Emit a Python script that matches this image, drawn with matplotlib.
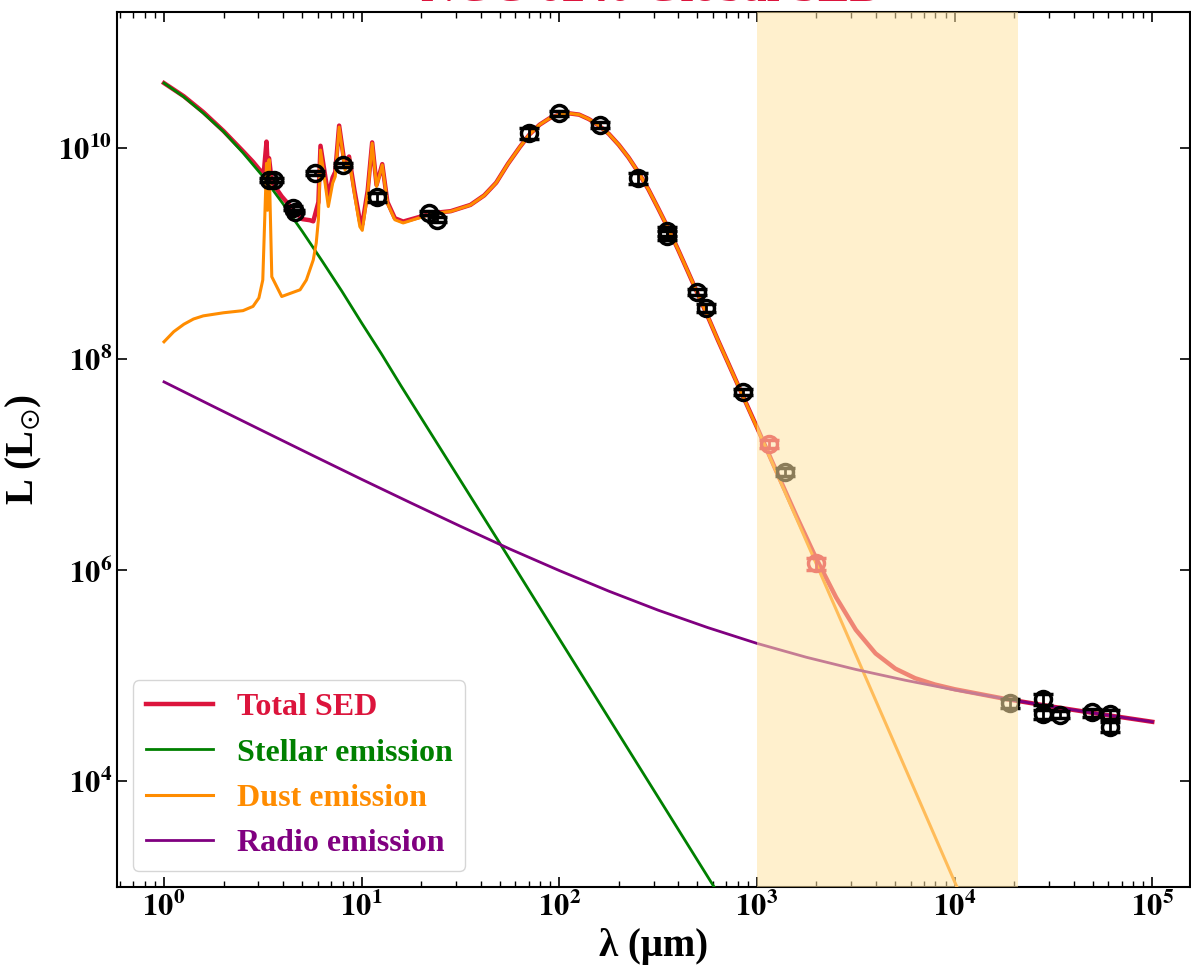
import math
import matplotlib
matplotlib.use('Agg')
import matplotlib.pyplot as plt
from matplotlib.ticker import LogLocator, FuncFormatter, NullLocator, NullFormatter, FixedLocator

plt.rcParams['mathtext.fontset'] = 'stix'
plt.rcParams['font.family'] = ['Liberation Serif', 'DejaVu Serif']

# --- model components (wavelength in micron, luminosity in Lsun) ---
star_wl = [1, 1.26, 1.58, 2.0, 2.51, 3.16, 3.98, 5.01, 6.31, 7.94, 10, 12.6,
           15.8, 25.1, 48.3, 100, 316, 631, 1000]
star_L = [4.12e10, 3.05e10, 2.14e10, 1.43e10, 9.0e9, 5.4e9, 3.0e9, 1.62e9,
          8.5e8, 4.4e8, 2.2e8, 1.12e8, 5.6e7, 1.41e7, 2.0e6, 2.24e5, 7.1e3,
          890, 224]

dust_wl = [1.0, 1.12, 1.26, 1.41, 1.58, 2.0, 2.51, 2.82, 3.02, 3.16, 3.30,
           3.34, 3.40, 3.51, 3.94, 4.88, 5.25, 5.69, 5.89, 6.04, 6.19, 6.78,
           7.13, 7.35, 7.69, 8.24, 8.63, 9.18, 9.79, 10.07, 10.72, 11.30,
           11.89, 12.71, 13.49, 14.72, 16.22, 23.0, 28.2, 35.5, 41.7, 47.9,
           55.0, 63.1, 70.8, 79.4, 89.1, 100, 112, 126, 141, 158, 178, 200,
           224, 251, 282, 316, 355, 398, 447, 501, 562, 631, 708, 794, 891,
           1000, 1585, 2512, 3981, 6310, 1e4, 12589]
dust_L = [1.46e8, 1.82e8, 2.14e8, 2.40e8, 2.57e8, 2.75e8, 2.88e8, 3.16e8,
          3.80e8, 5.62e8, 7.16e9, 2.57e9, 7.76e9, 6.03e8, 3.92e8, 4.54e8,
          5.62e8, 8.71e8, 1.26e9, 2.09e9, 9.55e9, 2.79e9, 4.63e9, 5.37e9,
          1.58e10, 6.17e9, 7.94e9, 3.72e9, 1.80e9, 1.66e9, 3.72e9, 1.11e10,
          4.32e9, 6.92e9, 3.00e9, 2.09e9, 1.95e9, 2.40e9, 2.51e9, 2.88e9,
          3.55e9, 4.68e9, 7.08e9, 1.02e10, 1.35e10, 1.66e10, 1.91e10,
          2.07e10, 2.13e10, 2.07e10, 1.88e10, 1.64e10, 1.36e10, 1.07e10,
          8.13e9, 5.89e9, 4.07e9, 2.69e9, 1.74e9, 1.10e9, 6.76e8, 4.17e8,
          2.57e8, 1.55e8, 9.55e7, 5.89e7, 3.63e7, 2.24e7, 3.09e6, 4.27e5,
          5.89e4, 8.13e3, 1.12e3, 417]

radio_wl = [1, 1.778, 3.162, 5.623, 10, 17.78, 31.62, 56.23, 100, 177.8,
            316.2, 562.3, 1000, 1778, 3162, 5623, 1e4, 17783, 31623, 56234, 1e5]
radio_L = [6.09e7, 3.56e7, 2.09e7, 1.23e7, 7.27e6, 4.34e6, 2.61e6, 1.59e6,
           9.94e5, 6.35e5, 4.19e5, 2.87e5, 2.03e5, 1.50e5, 1.15e5, 9.09e4,
           7.36e4, 6.08e4, 5.09e4, 4.31e4, 3.67e4]

total_wl = [1.0, 1.26, 1.58, 2.0, 2.51, 2.82, 3.06, 3.20, 3.30, 3.34, 3.40,
            3.51, 3.94, 4.51, 5.01, 5.47, 5.69, 6.04, 6.19, 6.78, 7.13, 7.35,
            7.69, 8.24, 8.63, 9.18, 9.79, 10.07, 10.72, 11.30, 11.89, 12.71,
            13.49, 14.72, 16.22, 23.0, 28.2, 35.5, 41.7, 47.9, 55.0, 63.1,
            70.8, 79.4, 89.1, 100, 112, 126, 141, 158, 178, 200, 224, 251,
            282, 316, 355, 398, 447, 501, 562, 631, 708, 794, 891, 1000, 1259,
            1585, 1995, 2512, 3162, 3981, 5012, 6310, 7943, 1e4, 17783, 31623,
            56234, 1e5]
total_L = [4.12e10, 3.09e10, 2.19e10, 1.45e10, 9.33e9, 7.4e9, 6.15e9, 5.96e9,
           1.15e10, 7.3e9, 8.0e9, 4.77e9, 3.48e9, 2.6e9, 2.12e9, 2.07e9,
           2.02e9, 3.07e9, 1.05e10, 3.5e9, 5.25e9, 5.93e9, 1.63e10, 6.58e9,
           8.3e9, 4.02e9, 2.05e9, 1.89e9, 3.91e9, 1.13e10, 4.46e9, 7.03e9,
           3.09e9, 2.16e9, 2.01e9, 2.42e9, 2.52e9, 2.89e9, 3.56e9, 4.69e9,
           7.09e9, 1.02e10, 1.35e10, 1.66e10, 1.91e10, 2.07e10, 2.13e10,
           2.07e10, 1.88e10, 1.64e10, 1.36e10, 1.07e10, 8.13e9, 5.89e9,
           4.07e9, 2.69e9, 1.74e9, 1.10e9, 6.76e8, 4.17e8, 2.57e8, 1.55e8,
           9.57e7, 5.91e7, 3.65e7, 2.26e7, 8.5e6, 3.25e6, 1.29e6, 5.55e5,
           2.73e5, 1.63e5, 1.17e5, 9.5e4, 8.28e4, 7.47e4, 6.08e4, 5.09e4,
           4.31e4, 3.67e4]

# --- photometry ---
obs_wl = [3.4, 3.6, 4.5, 4.6, 5.8, 8.0, 12, 22, 24, 70, 100, 160, 250, 350,
          349, 500, 550, 850, 1380, 1.9e4, 2.79e4, 2.79e4, 3.4e4, 4.94e4,
          6.1e4, 6.1e4]
obs_L = [5.0e9, 5.0e9, 2.7e9, 2.5e9, 5.8e9, 6.9e9, 3.4e9, 2.43e9, 2.1e9,
         1.39e10, 2.14e10, 1.65e10, 5.2e9, 1.62e9, 1.48e9, 4.35e8, 3.06e8,
         4.9e7, 8.6e6, 5.5e4, 6.0e4, 4.33e4, 4.3e4, 4.5e4, 4.33e4, 3.3e4]
obs_err = [0.2e9, 0.2e9, 0.1e9, 0.1e9, 0.2e9, 0.3e9, 0.35e9, 0.1e9, 0.12e9,
           1.6e9, 1.2e9, 1.0e9, 0.6e9, 0.15e9, 0.15e9, 0.3e8, 0.25e8, 0.3e7,
           0.8e6, 0.5e4, 0.7e4, 0.4e4, 0.35e4, 0.4e4, 0.4e4, 0.35e4]

extra_wl = [1150, 2000]
extra_L = [1.58e7, 1.16e6]
extra_err = [1.5e6, 1.6e5]

fig = plt.figure(figsize=(11.91, 9.71), dpi=100)
ax = fig.add_axes([0.0982, 0.0865, 0.9009, 0.9011])

ax.plot(total_wl, total_L, color='crimson', lw=3.2, zorder=2, label='Total SED')
ax.plot(star_wl, star_L, color='green', lw=2, zorder=3, label='Stellar emission')
ax.plot(dust_wl, dust_L, color='darkorange', lw=2.2, zorder=3, label='Dust emission')
ax.plot(radio_wl, radio_L, color='purple', lw=2, zorder=3, label='Radio emission')

ax.errorbar(obs_wl, obs_L, yerr=obs_err, fmt='o', ms=11.5, mfc='none', mec='black',
            mew=2.5, ecolor='black', elinewidth=2, capsize=7, capthick=3, zorder=5)
ax.errorbar(extra_wl, extra_L, yerr=extra_err, fmt='o', ms=11.5, mfc='none',
            mec='crimson', mew=2.5, ecolor='crimson', elinewidth=2, capsize=7,
            capthick=3, zorder=5)

# mm window
ax.axvspan(1e3, 2.1e4, color='#ffe4a4', alpha=0.55, lw=0, zorder=10)

ax.set_xscale('log')
ax.set_yscale('log')
ax.set_xlim(0.578, 1.55e5)
ax.set_ylim(1.0e3, 1.94e11)

ax.xaxis.set_major_locator(FixedLocator([1, 1e1, 1e2, 1e3, 1e4, 1e5]))
ax.xaxis.set_minor_locator(LogLocator(base=10, subs=range(2, 10), numticks=20))
ax.yaxis.set_major_locator(FixedLocator([1e4, 1e6, 1e8, 1e10]))
ax.yaxis.set_minor_locator(NullLocator())
fmt = FuncFormatter(lambda v, p: r'$\mathbf{10^{%d}}$' % round(math.log10(v)))
ax.xaxis.set_major_formatter(fmt)
ax.yaxis.set_major_formatter(fmt)
ax.xaxis.set_minor_formatter(NullFormatter())
ax.tick_params(which='both', direction='in', top=True, right=True, labelsize=22)
ax.tick_params(which='major', length=7, width=1.2)
ax.tick_params(which='minor', length=4, width=1)
for s in ax.spines.values():
    s.set_linewidth(1.5)

ax.set_xlabel('λ (μm)', fontsize=28, fontweight='bold', labelpad=4)
ax.set_ylabel(r'L (L$_{\odot}$)', fontsize=28, fontweight='bold', labelpad=10)

leg = ax.legend(loc='lower left', handlelength=2.1, handletextpad=0.75,
                borderaxespad=0.5, labelspacing=0.5,
                prop={'weight': 'bold', 'size': 23})
for txt, c in zip(leg.get_texts(), ['crimson', 'green', 'darkorange', 'purple']):
    txt.set_color(c)

fig.text(0.548, 1 - 1 / 971, 'NGC 6240 Global SED', ha='center', va='baseline',
         color='crimson', fontsize=34, fontweight='bold')

fig.savefig('out.png', dpi=100)
